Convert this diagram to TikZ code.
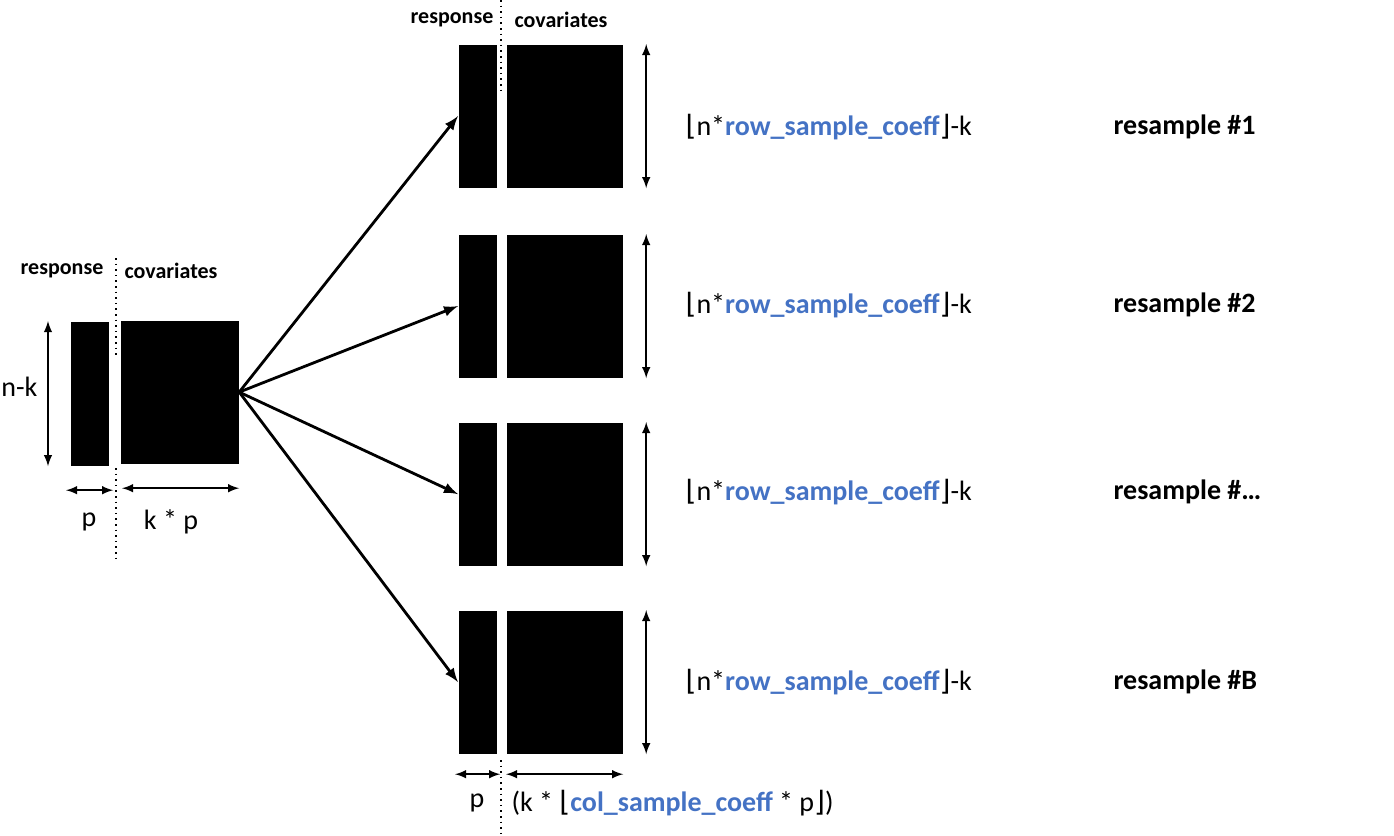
\documentclass[tikz,border=0pt]{standalone}
\usepackage{fontspec}
\setmainfont{Carlito}
\newfontfamily\symfont{DejaVu Sans}
\usetikzlibrary{positioning}
\definecolor{coeffblue}{HTML}{4472C4}
\tikzset{resp/.style = {fill, inner sep=0pt, minimum width=19pt, minimum height=71.5pt, anchor=north west}}
\tikzset{covar/.style = {fill, inner sep=0pt, minimum width=58pt, minimum height=71.5pt, anchor=north west}}
\tikzset{head/.style = {font=\fontsize{11}{13}\selectfont\bfseries}}
\tikzset{lbl/.style = {font=\fontsize{14}{17}\selectfont, inner sep=0pt}}
\tikzset{dim/.style = {<->, line width=0.9pt}}
\tikzset{split/.style = {dotted, thick}}
\newcommand{\coeff}[1]{\textcolor{coeffblue}{\bfseries #1}}
\newcommand{\lfl}{{\symfont\fontsize{14}{17}\selectfont ⌊}}
\newcommand{\rfl}{{\symfont\fontsize{14}{17}\selectfont ⌋}}

\begin{document}
\begin{tikzpicture}[x=0.5pt, y=-0.5pt, >=latex, semithick]
  \useasboundingbox (0,0) rectangle (1394,836);

  % full data
  \node [resp, minimum height=72pt] (r0) at (70,321) {};
  \node [covar, minimum width=59pt] (c0) at (120,320) {};
  \node [head] (h0) at (62,271) {response};
  \node [head] (k0) at (171,271) {covariates};
  \draw [split] (116,258) -- (116,355);
  \draw [split] (116,468) -- (116,563);

  \draw [dim] ([xshift=-11pt]r0.north west) -- ([xshift=-11pt]r0.south west);
  \node [lbl, anchor=east] (nk) at (38,387) {n-k};
  \draw [dim] ([shift={(-2pt,-12pt)}]r0.south west) -- ([shift={(2pt,-12pt)}]r0.south east);
  \draw [dim] ([shift={(1pt,-12pt)}]c0.south west) -- ([shift={(0pt,-12pt)}]c0.south east);
  \node [lbl] (p0) at (89,522) {p};
  \node [lbl] (kp0) at (171,522) {k * p};

  % resamples
  \node [head] (h1) at (452,20) {response};
  \node [head] (k1) at (561,20) {covariates};
  \draw [split] (501,0) -- (501,92);
  \draw [split] (501,760) -- (501,836);

  \foreach \n/\top/\ly/\tag in {1/44/127/1, 2/234/305/2, 3/422/492/\ldots, 4/610/682/B} {
    \node [resp] (r\n) at (458,\top) {};
    \node [covar] (c\n) at (506,\top) {};
    \draw [dim] ([xshift=11.5pt]c\n.north east) -- ([xshift=11.5pt]c\n.south east);
    \node [lbl, anchor=west] (m\n) at (685,\ly) {\lfl n*\coeff{row\_sample\_coeff}\rfl-k};
    \node [lbl, anchor=west, font=\fontsize{14}{17}\selectfont\bfseries] (s\n) at (1113,\ly) {resample \#\tag};
    \path [->, line width=1.4pt] (c0.east) edge (r\n.west);
  }

  \draw [dim] ([shift={(-1.5pt,-10pt)}]r4.south west) -- ([shift={(1.5pt,-10pt)}]r4.south east);
  \draw [dim] ([shift={(0pt,-10pt)}]c4.south west) -- ([shift={(0pt,-10pt)}]c4.south east);
  \node [lbl] (p4) at (477,803) {p};
  \node [lbl, anchor=west] (kp4) at (511,803) {(k * \lfl\coeff{col\_sample\_coeff} * p\rfl)};
\end{tikzpicture}
\end{document}
